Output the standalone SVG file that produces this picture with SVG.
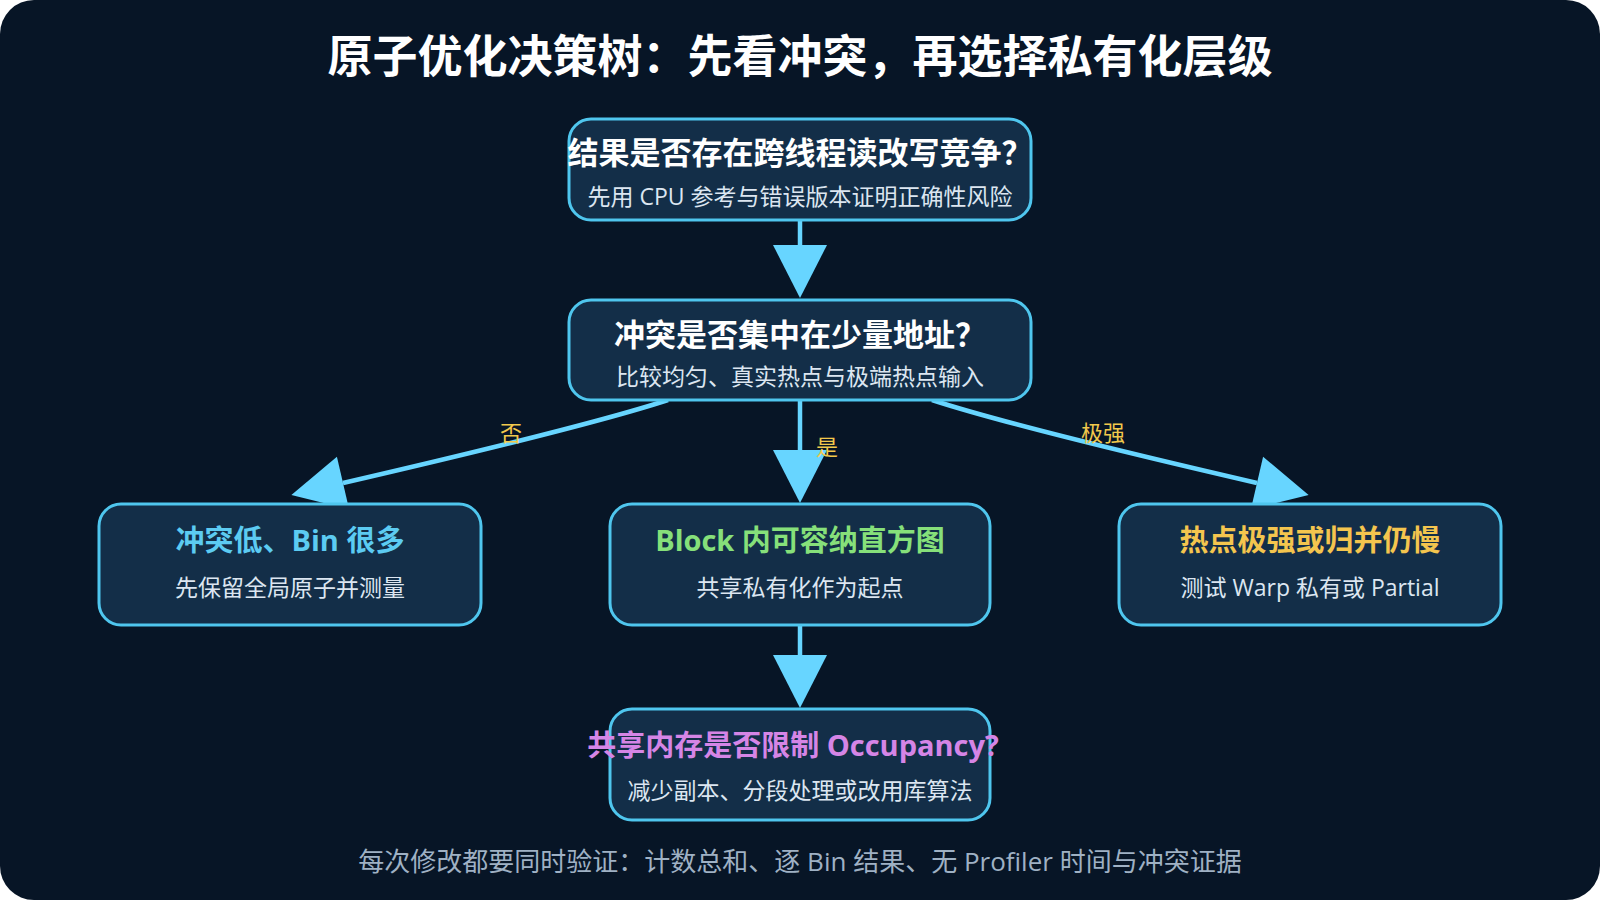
<svg xmlns="http://www.w3.org/2000/svg" width="1600" height="900" viewBox="0 0 1600 900">
<style>
.node rect{fill:#132e48;stroke:#4fc6ee;stroke-width:3}
text{font-family:"Open Sans","Noto Sans CJK SC",sans-serif;text-anchor:middle}
.t{font-size:29px;font-weight:700}
.s{font-size:23px;fill:#dce6f1}
.lbl{font-size:22px;fill:#f2c94c}
.conn path,.conn line{stroke:#67d5ff;stroke-width:4.5;fill:none}
</style>
<defs>
<marker id="ah" markerUnits="userSpaceOnUse" markerWidth="54" markerHeight="56" refX="0" refY="27" orient="auto" overflow="visible">
<path d="M0,0 L53,27 L0,54 z" fill="#67d5ff"/>
</marker>
</defs>
<rect width="1600" height="900" fill="#ffffff"/>
<rect width="1600" height="900" rx="34" fill="#071526"/>
<text x="800" y="73" style="font-size:45px;font-weight:700;fill:#ffffff">原子优化决策树：先看冲突，再选择私有化层级</text>
<g class="conn">
<line x1="800" y1="220" x2="800" y2="245" marker-end="url(#ah)"/>
<line x1="800" y1="400" x2="800" y2="450" marker-end="url(#ah)"/>
<path d="M668,400 Q585,427 343,483" marker-end="url(#ah)"/>
<path d="M932,400 Q1015,427 1257,483" marker-end="url(#ah)"/>
<line x1="800" y1="625" x2="800" y2="655" marker-end="url(#ah)"/>
<text class="lbl" x="511" y="441">否</text>
<text class="lbl" x="827" y="455">是</text>
<text class="lbl" x="1103" y="441">极强</text>
</g>
<g id="n1" class="node">
<rect x="569" y="119" width="462" height="101" rx="22"/>
<text class="t" x="800" y="164" fill="#ffffff" style="font-size:31px">结果是否存在跨线程读改写竞争？</text>
<text class="s" x="800" y="205">先用 CPU 参考与错误版本证明正确性风险</text>
</g>
<g id="n2" class="node">
<rect x="569" y="300" width="462" height="100" rx="22"/>
<text class="t" x="800" y="346" fill="#ffffff" style="font-size:31px">冲突是否集中在少量地址？</text>
<text class="s" x="800" y="385">比较均匀、真实热点与极端热点输入</text>
</g>
<g id="n3" class="node">
<rect x="99" y="504" width="382" height="121" rx="22"/>
<text class="t" x="290" y="551" fill="#5ccbf2">冲突低、Bin 很多</text>
<text class="s" x="290" y="596">先保留全局原子并测量</text>
</g>
<g id="n4" class="node">
<rect x="610" y="504" width="380" height="121" rx="22"/>
<text class="t" x="800" y="551" fill="#86e07a">Block 内可容纳直方图</text>
<text class="s" x="800" y="596">共享私有化作为起点</text>
</g>
<g id="n5" class="node">
<rect x="1119" y="504" width="382" height="121" rx="22"/>
<text class="t" x="1310" y="551" fill="#f4c54e">热点极强或归并仍慢</text>
<text class="s" x="1310" y="596">测试 Warp 私有或 Partial</text>
</g>
<g id="n6" class="node">
<rect x="610" y="709" width="380" height="111" rx="22"/>
<text class="t" x="793" y="756" fill="#d585e6">共享内存是否限制 Occupancy?</text>
<text class="s" x="800" y="799">减少副本、分段处理或改用库算法</text>
</g>
<text x="800" y="871" style="font-size:26px;fill:#9fb1c4">每次修改都要同时验证：计数总和、逐 Bin 结果、无 Profiler 时间与冲突证据</text>
</svg>
